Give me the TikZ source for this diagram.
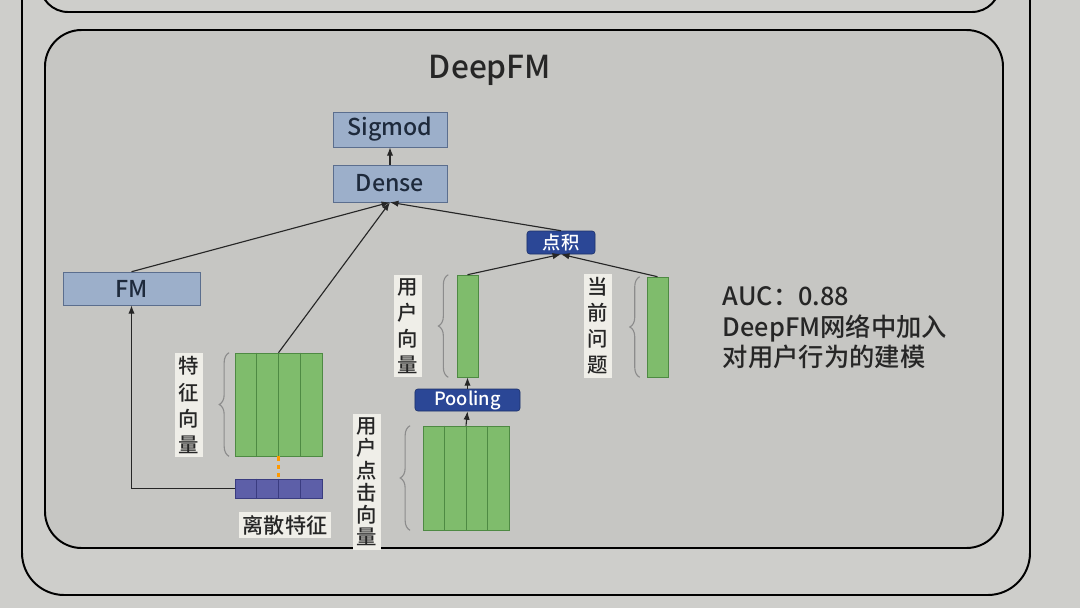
\documentclass[tikz,border=0pt]{standalone}
\usepackage{fontspec}
\setmainfont{Noto Sans CJK SC Medium}
\usepackage{xcolor}
\usetikzlibrary{arrows.meta,positioning,calc,decorations.pathreplacing}
\definecolor{slidebg}{HTML}{CECECB}
\definecolor{layerfill}{HTML}{9CAFCA}
\definecolor{layerline}{HTML}{5B6E8E}
\definecolor{opfill}{HTML}{2B4796}
\definecolor{vecfill}{HTML}{7FBC6C}
\definecolor{vecline}{HTML}{4E8A43}
\definecolor{discfill}{HTML}{5D5FA8}
\definecolor{discline}{HTML}{3A3C80}
\definecolor{tagfill}{HTML}{EFEEE8}
\definecolor{ink}{HTML}{1E2A3C}

\begin{document}
\begin{tikzpicture}[x=0.025cm, y=-0.025cm,
  layer/.style={draw=layerline, fill=layerfill, text=ink, inner sep=0pt, font=\fontsize{16.5}{18}\selectfont},
  opbox/.style={draw=opfill!70!black, fill=opfill, rounded corners=2pt, text=white, inner sep=0pt},
  vec/.style={draw=vecline, fill=vecfill, inner sep=0pt},
  tag/.style={fill=tagfill, inner sep=2.5pt, text=black!85, align=center, font=\fontsize{14.5}{18.5}\selectfont},
  brc/.style={draw=black!45, thick, decorate, decoration={brace, amplitude=7pt}},
  arr/.style={-{Latex[length=6pt,width=4.5pt]}, thick, black!85}]
\useasboundingbox[fill=slidebg] (0,0) rectangle (1080,608);
% frames of the slide
\draw[line width=1.4pt, rounded corners=30pt] (22,-60) rectangle (1030,595);
\draw[line width=1.4pt, rounded corners=20pt] (40,-60) rectangle (1000,12);
\draw[line width=1.4pt, rounded corners=26pt, fill=black!4!slidebg] (45,30) rectangle (1003,548);
\node[text=black!85, font=\fontsize{22.5}{26}\selectfont] (title) at (490,70) {DeepFM};

% layers
\node[layer, minimum width=2.85cm, minimum height=0.875cm] (sig) at (390,129.5) {Sigmod};
\node[layer, minimum width=2.85cm, minimum height=0.925cm] (dense) at (390,183.5) {Dense};
\node[layer, minimum width=3.425cm, minimum height=0.825cm] (fm) at (131.5,288.5) {FM};
\node[opbox, minimum width=1.7cm, minimum height=0.575cm, font=\fontsize{13}{14}\selectfont] (dot) at (561,242.5) {点积};
\node[opbox, minimum width=2.625cm, minimum height=0.55cm, font=\fontsize{13}{14}\selectfont] (pool) at (467.5,400) {Pooling};

% vectors
\node[vec, minimum width=2.175cm, minimum height=2.575cm] (emb) at (278.5,404.5) {};
\node[draw=discline, fill=discfill, inner sep=0pt, minimum width=2.175cm, minimum height=0.475cm] (disc) at (278.5,488.5) {};
\node[vec, minimum width=0.525cm, minimum height=2.55cm] (uvec) at (467.5,326) {};
\node[vec, minimum width=0.525cm, minimum height=2.5cm] (qvec) at (657.5,327) {};
\node[vec, minimum width=2.15cm, minimum height=2.6cm] (click) at (466,478) {};
\foreach \k in {1,2,3} {
  \draw[vecline] ($(emb.north west)!\k/4!(emb.north east)$) -- ($(emb.south west)!\k/4!(emb.south east)$);
  \draw[vecline] ($(click.north west)!\k/4!(click.north east)$) -- ($(click.south west)!\k/4!(click.south east)$);
  \draw[discline] ($(disc.north west)!\k/4!(disc.north east)$) -- ($(disc.south west)!\k/4!(disc.south east)$);
}

% braces and tags
\draw[brc] ([xshift=-4pt]emb.south west) -- ([xshift=-4pt]emb.north west);
\draw[brc] ([xshift=-6pt]uvec.south west) -- ([xshift=-6pt]uvec.north west);
\draw[brc] ([xshift=-5pt]qvec.south west) -- ([xshift=-5pt]qvec.north west);
\draw[brc] ([xshift=-9pt]click.south west) -- ([xshift=-9pt]click.north west);
\node[tag] (embtag) at (189,405) {特\\征\\向\\量};
\node[tag] (utag) at (408,326) {用\\户\\向\\量};
\node[tag] (qtag) at (598,326) {当\\前\\问\\题};
\node[tag, font=\fontsize{14.5}{15.8}\selectfont] (clicktag) at (367,482) {用\\户\\点\\击\\向\\量};
\node[tag, font=\fontsize{15}{17}\selectfont] (disctag) at (285,525) {离散特征};

% connectors
\draw[arr] (dense) -- (sig);
\draw[arr] (fm.north) -- (dense.south);
\draw[arr] (emb.north) -- (dense.south);
\draw[arr] (dot.north) -- (dense.south);
\draw[arr] (uvec.north) -- (dot.south);
\draw[arr] (qvec.north) -- (dot.south);
\draw[arr] (disc.west) -| (fm.south);
\draw[arr] (click.north) -- (pool.south);
\draw[arr] (pool.north) -- (uvec.south);
\draw[orange!80!yellow, line width=2pt, dashed] (emb.south) -- (disc.north);

% result
\node[anchor=north west, align=left, text=black!85, font=\fontsize{18}{21.5}\selectfont] (auc) at (718,282) {AUC：0.88\\DeepFM网络中加入\\对用户行为的建模};
\end{tikzpicture}
\end{document}
